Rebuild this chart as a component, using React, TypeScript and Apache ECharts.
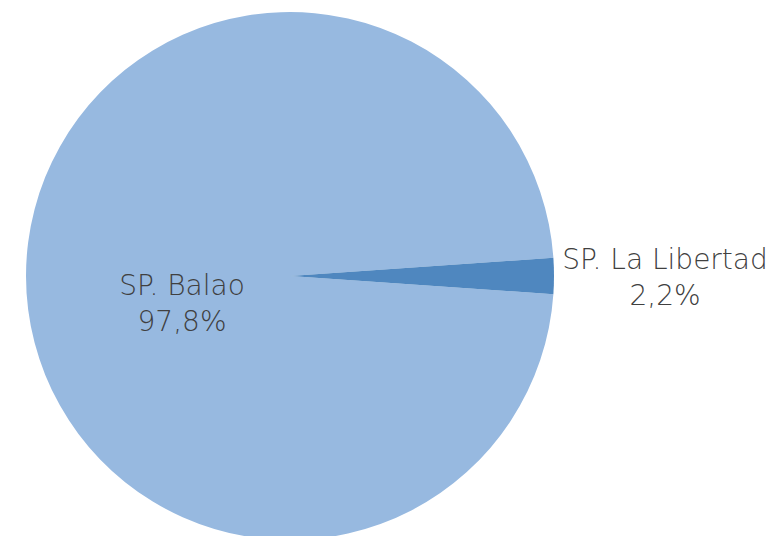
import React, { useEffect, useRef } from "react";
import * as echarts from "echarts";

const categories = ["SP. Balao", "SP. La Libertad"];
const values = [97.8, 2.2];
const colors = ["#97B9E0", "#4F87BF"];

export default function App() {
  const ref = useRef<HTMLDivElement>(null);
  useEffect(() => {
    if (!ref.current) return;
    const chart = echarts.init(ref.current, null, { renderer: "svg" });
    const total = values.reduce((a, b) => a + b, 0);
    const startAngle = -((values[1] / total) * 360) / 2;
    chart.setOption({
      animation: false,
      backgroundColor: "#ffffff",
      series: [
        {
          type: "pie",
          center: [290, 276],
          radius: 264,
          startAngle,
          clockwise: true,
          avoidLabelOverlap: false,
          data: categories.map((name, i) => ({
            name,
            value: values[i],
            itemStyle: { color: colors[i] },
          })),
          label: {
            show: true,
            position: "inside",
            color: "#404040",
            fontFamily: "'DejaVu Sans', sans-serif",
            fontWeight: 200,
            fontSize: 28,
            lineHeight: 36,
            align: "center",
            formatter: (p: any) =>
              `${p.name}\n${((p.value / total) * 100).toFixed(1).replace(".", ",")}%`,
          },
          labelLine: { show: false },
          labelLayout: (p: any) =>
            p.dataIndex === 0 ? { dx: 27, dy: 27 } : { dx: 240, dy: 1 },
          emphasis: { disabled: true },
        },
      ],
    });
    return () => chart.dispose();
  }, []);
  return (
    <div
      ref={ref}
      style={{ position: "fixed", left: 0, top: 0, width: 769, height: 536 }}
    />
  );
}
